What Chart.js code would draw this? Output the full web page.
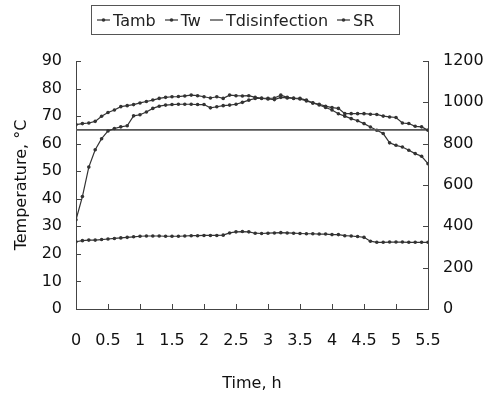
<!DOCTYPE html>
<html>
<head>
<meta charset="utf-8">
<script src="https://cdn.jsdelivr.net/npm/chart.js@4"></script>
<style>
    body { margin: 0; background: #fff; }
    #wrap { position: relative; width: 492px; height: 396px; }
    #runChart { position: absolute; left: 0; top: 0; }
    #legend {
        position: absolute; left: 91px; top: 5px; width: 302px; height: 28px;
        border: 1px solid #555; display: flex; align-items: center;
        padding-left: 5px; box-sizing: content-box;
        font-family: "DejaVu Sans", sans-serif; font-size: 16px; color: #222;
    }
    .item { display: flex; align-items: center; margin-right: 9px; white-space: nowrap; }
    .item svg { margin-right: 3px; }
</style>
</head>
<body>
<div id="wrap">
    <canvas id="runChart" width="492" height="396"></canvas>
    <div id="legend"></div>
</div>
<script>
// time, h
const times = [0, 0.1, 0.2, 0.3, 0.4, 0.5, 0.6, 0.7, 0.8, 0.9,
    1.0, 1.1, 1.2, 1.3, 1.4, 1.5, 1.6, 1.7, 1.8, 1.9,
    2.0, 2.1, 2.2, 2.3, 2.4, 2.5, 2.6, 2.7, 2.8, 2.9,
    3.0, 3.1, 3.2, 3.3, 3.4, 3.5, 3.6, 3.7, 3.8, 3.9,
    4.0, 4.1, 4.2, 4.3, 4.4, 4.5, 4.6, 4.7, 4.8, 4.9,
    5.0, 5.1, 5.2, 5.3, 5.4, 5.5];

const tamb = [24.4, 24.8, 25.0, 25.0, 25.2, 25.4, 25.6, 25.8, 26.0, 26.2,
    26.4, 26.5, 26.5, 26.5, 26.4, 26.4, 26.4, 26.5, 26.6, 26.6,
    26.7, 26.7, 26.7, 26.8, 27.6, 28.0, 28.1, 28.0, 27.5, 27.4,
    27.5, 27.6, 27.7, 27.6, 27.5, 27.4, 27.3, 27.3, 27.2, 27.2,
    27.0, 27.0, 26.6, 26.5, 26.3, 26.0, 24.6, 24.2, 24.2, 24.3,
    24.3, 24.3, 24.2, 24.2, 24.2, 24.2];

const tw = [32.4, 40.8, 51.5, 57.8, 61.8, 64.6, 65.5, 66.1, 66.5, 70.1,
    70.5, 71.5, 72.8, 73.6, 74.0, 74.2, 74.3, 74.3, 74.3, 74.2,
    74.2, 73.0, 73.4, 73.8, 74.0, 74.3, 75.0, 75.8, 76.4, 76.4,
    76.2, 76.0, 76.8, 76.6, 76.4, 76.2, 75.5, 74.8, 74.3, 73.6,
    73.1, 72.8, 70.9, 70.9, 70.9, 70.9, 70.7, 70.6, 70.0, 69.7,
    69.5, 67.5, 67.3, 66.3, 66.1, 64.9];

// solar radiation, right axis
const sr = [892, 897, 900, 908, 933, 951, 963, 979, 984, 989,
    997, 1004, 1011, 1019, 1024, 1027, 1028, 1031, 1035, 1032,
    1027, 1021, 1027, 1019, 1035, 1032, 1031, 1032, 1024, 1021,
    1019, 1021, 1035, 1024, 1021, 1019, 1011, 997, 987, 975,
    963, 945, 933, 921, 911, 897, 881, 865, 849, 804,
    792, 784, 768, 752, 739, 703];

const tdisTimes = [0, 5.5];
const tdisValues = [65, 65];

const xTickLabels = ['0', '0.5', '1', '1.5', '2', '2.5', '3', '3.5', '4', '4.5', '5', '5.5'];
const yTickLabels = ['0', '10', '20', '30', '40', '50', '60', '70', '80', '90'];
const y2TickLabels = ['0', '200', '400', '600', '800', '1000', '1200'];

const legendNames = ['Tamb', 'Tw', 'Tdisinfection', 'SR'];

const ink = '#333';
const font = { family: '"DejaVu Sans", sans-serif', size: 16 };

function pts(xs, ys) {
    return xs.map((x, i) => ({ x: x, y: ys[i] }));
}

function markerSeries(label, data, axis) {
    return {
        label: label,
        data: data,
        yAxisID: axis,
        borderColor: ink,
        backgroundColor: ink,
        borderWidth: 1.2,
        pointRadius: 1.8,
        pointBorderWidth: 0,
        tension: 0
    };
}

// legend with a box round it
const legend = document.getElementById('legend');
legendNames.forEach(name => {
    const item = document.createElement('div');
    item.className = 'item';
    const dot = name === 'Tdisinfection' ? '' : '<circle cx="6.5" cy="7" r="1.8" fill="#333"/>';
    item.innerHTML = `<svg width="13" height="14"><line x1="0" y1="7" x2="13" y2="7" stroke="#333" stroke-width="1.2"/>${dot}</svg><span>${name}</span>`;
    legend.appendChild(item);
});

// tick marks pointing into the plot
const innerTicks = {
    id: 'innerTicks',
    afterDatasetsDraw(c) {
        const ctx = c.ctx;
        const area = c.chartArea;
        ctx.save();
        ctx.strokeStyle = '#444';
        ctx.lineWidth = 1;
        ['x', 'y', 'y2'].forEach(id => {
            const s = c.scales[id];
            s.ticks.forEach(t => {
                const p = Math.round(s.getPixelForValue(t.value)) + 0.5;
                ctx.beginPath();
                if (id === 'x') { ctx.moveTo(p, area.bottom); ctx.lineTo(p, area.bottom - 5); }
                else if (id === 'y') { ctx.moveTo(area.left, p); ctx.lineTo(area.left + 5, p); }
                else { ctx.moveTo(area.right, p); ctx.lineTo(area.right - 5, p); }
                ctx.stroke();
            });
        });
        ctx.restore();
    }
};

let chart = new Chart(document.getElementById('runChart').getContext('2d'), {
    type: 'line',
    data: {
        datasets: [
            markerSeries('Tamb', pts(times, tamb), 'y'),
            markerSeries('Tw', pts(times, tw), 'y'),
            {
                label: 'Tdisinfection',
                data: pts(tdisTimes, tdisValues),
                yAxisID: 'y',
                borderColor: '#555',
                borderWidth: 1.6,
                pointRadius: 0
            },
            markerSeries('SR', pts(times, sr), 'y2')
        ]
    },
    options: {
        responsive: false,
        animation: false,
        layout: { padding: { top: 61, left: 0, right: 0, bottom: 0 } },
        plugins: { legend: { display: false }, tooltip: { enabled: false } },
        scales: {
            x: {
                type: 'linear',
                min: 0, max: 5.5,
                afterFit: s => { s.height = 87; },
                ticks: {
                    stepSize: 0.5, color: '#111', font: font, padding: 22, maxRotation: 0,
                    callback: (v, i) => xTickLabels[i]
                },
                grid: { drawOnChartArea: false, drawTicks: false },
                border: { color: '#444', width: 1 },
                title: { display: true, text: 'Time, h', color: '#111', font: font, padding: { top: 0, bottom: 3 } }
            },
            y: {
                position: 'left',
                min: 0, max: 90,
                afterFit: s => { s.width = 76; },
                ticks: {
                    stepSize: 10, color: '#111', font: font, padding: 14,
                    callback: (v, i) => yTickLabels[i]
                },
                grid: { drawOnChartArea: false, drawTicks: false },
                border: { color: '#444', width: 1 },
                title: { display: true, text: 'Temperature, °C', color: '#111', font: font, padding: { top: 12, bottom: 0 } }
            },
            y2: {
                position: 'right',
                min: 0, max: 1200,
                afterFit: s => { s.width = 64; },
                ticks: {
                    stepSize: 200, color: '#111', font: font, padding: 15,
                    callback: (v, i) => y2TickLabels[i]
                },
                grid: { drawOnChartArea: false, drawTicks: false },
                border: { color: '#444', width: 1 }
            }
        }
    },
    plugins: [innerTicks]
});
</script>
</body>
</html>
